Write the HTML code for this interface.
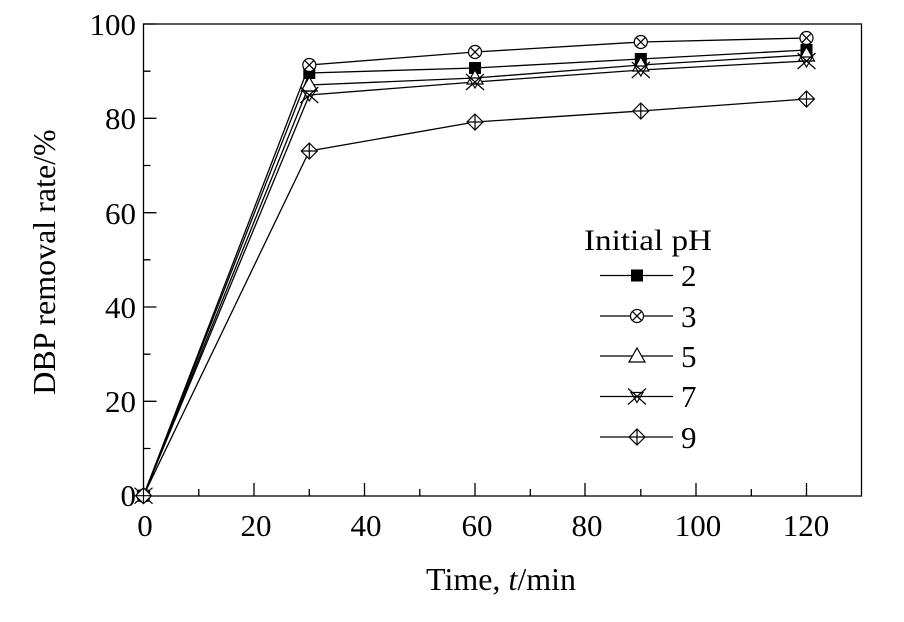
<!DOCTYPE html>
<html><head><meta charset="utf-8"><style>body{margin:0;background:#fff}svg{display:block}text{font-family:"Liberation Serif",serif;fill:#000}</style></head><body>
<svg width="904" height="622" viewBox="0 0 904 622" xmlns="http://www.w3.org/2000/svg">
<defs>
<g id="sq"><rect x="-6" y="-6" width="12" height="12" fill="#000"/></g>
<g id="ci" fill="#fff" stroke="#000" stroke-width="1.2"><circle r="6.5"/><path d="M-4.6,-4.6L4.6,4.6M-4.6,4.6L4.6,-4.6"/></g>
<g id="tr" fill="#fff" stroke="#000" stroke-width="1.2"><path d="M0,-8L8,6L-8,6Z"/></g>
<g id="xx" fill="none" stroke="#000" stroke-width="1.2"><path d="M-9,-8L9,8M-9,8L9,-8M-6,-4L6,-4L0,6Z"/></g>
<g id="di" fill="#fff" stroke="#000" stroke-width="1.2"><path d="M0,-8L8,0L0,8L-8,0Z"/><path d="M0,-8V8M-8,0H8"/></g>
</defs>
<g stroke="#000" stroke-width="1.3" fill="none">
<rect x="143.5" y="24" width="718" height="472"/>
<path d="M143.5,24h13M143.5,118.3h13M143.5,212.7h13M143.5,307h13M143.5,401.3h13
M143.5,71.2h7M143.5,165.5h7M143.5,259.8h7M143.5,354.2h7M143.5,448.5h7
M254,496v-13M364.5,496v-13M475,496v-13M585,496v-13M696,496v-13M806.5,496v-13
M198.8,496v-7M309.3,496v-7M419.8,496v-7M530.3,496v-7M640.8,496v-7M751.3,496v-7"/>
</g>
<g font-size="31" text-anchor="end">
<text x="136" y="35">100</text><text x="136" y="129">80</text><text x="136" y="224">60</text><text x="136" y="318">40</text><text x="136" y="412">20</text><text x="136" y="506">0</text>
</g>
<g font-size="31" text-anchor="middle">
<text x="145" y="536">0</text><text x="256" y="536">20</text><text x="366" y="536">40</text><text x="477" y="536">60</text><text x="587" y="536">80</text><text x="698" y="536">100</text><text x="806" y="536">120</text>
<text x="501" y="590" font-size="32">Time, <tspan font-style="italic">t</tspan>/min</text>
<text transform="translate(55,262) rotate(-90)" font-size="32">DBP removal rate/%</text>
</g>
<g stroke="#000" stroke-width="1.3" fill="none">
<polyline points="143.5,495.7 309.3,73 475,68 640.8,59 806.5,50"/>
<polyline points="143.5,495.7 309.3,65 475,52 640.8,42 806.5,38"/>
<polyline points="143.5,495.7 309.3,85 475,78 640.8,65 806.5,55"/>
<polyline points="143.5,495.7 309.3,95 475,82 640.8,70 806.5,61"/>
<polyline points="143.5,495.7 309.3,151 475,122 640.8,111 806.5,99"/>
</g>
<use href="#sq" x="309.3" y="73"/><use href="#sq" x="475" y="68"/><use href="#sq" x="640.8" y="59"/><use href="#sq" x="806.5" y="50"/>
<use href="#ci" x="309.3" y="65"/><use href="#ci" x="475" y="52"/><use href="#ci" x="640.8" y="42"/><use href="#ci" x="806.5" y="38"/>
<use href="#tr" x="309.3" y="85"/><use href="#tr" x="475" y="78"/><use href="#tr" x="640.8" y="65"/><use href="#tr" x="806.5" y="55"/>
<use href="#xx" x="309.3" y="95"/><use href="#xx" x="475" y="82"/><use href="#xx" x="640.8" y="70"/><use href="#xx" x="806.5" y="61"/>
<use href="#di" x="309.3" y="151"/><use href="#di" x="475" y="122"/><use href="#di" x="640.8" y="111"/><use href="#di" x="806.5" y="99"/>
<use href="#sq" x="143.5" y="495.7"/><use href="#ci" x="143.5" y="495.7"/><use href="#xx" x="143.5" y="495.7"/><use href="#di" x="143.5" y="495.7"/>
<text x="584" y="250" font-size="30" textLength="128" lengthAdjust="spacingAndGlyphs">Initial pH</text>
<g stroke="#000" stroke-width="1.3"><path d="M600,275.5H673M600,316H673M600,356H673M600,396.5H673M600,437H673"/></g>
<use href="#sq" x="637" y="275.5"/><use href="#ci" x="637" y="316"/><use href="#tr" x="637" y="356"/><use href="#xx" x="637" y="396.5"/><use href="#di" x="637" y="437"/>
<g font-size="31"><text x="681" y="286">2</text><text x="681" y="327">3</text><text x="681" y="367">5</text><text x="681" y="407">7</text><text x="681" y="448">9</text></g>
</svg>
</body></html>
